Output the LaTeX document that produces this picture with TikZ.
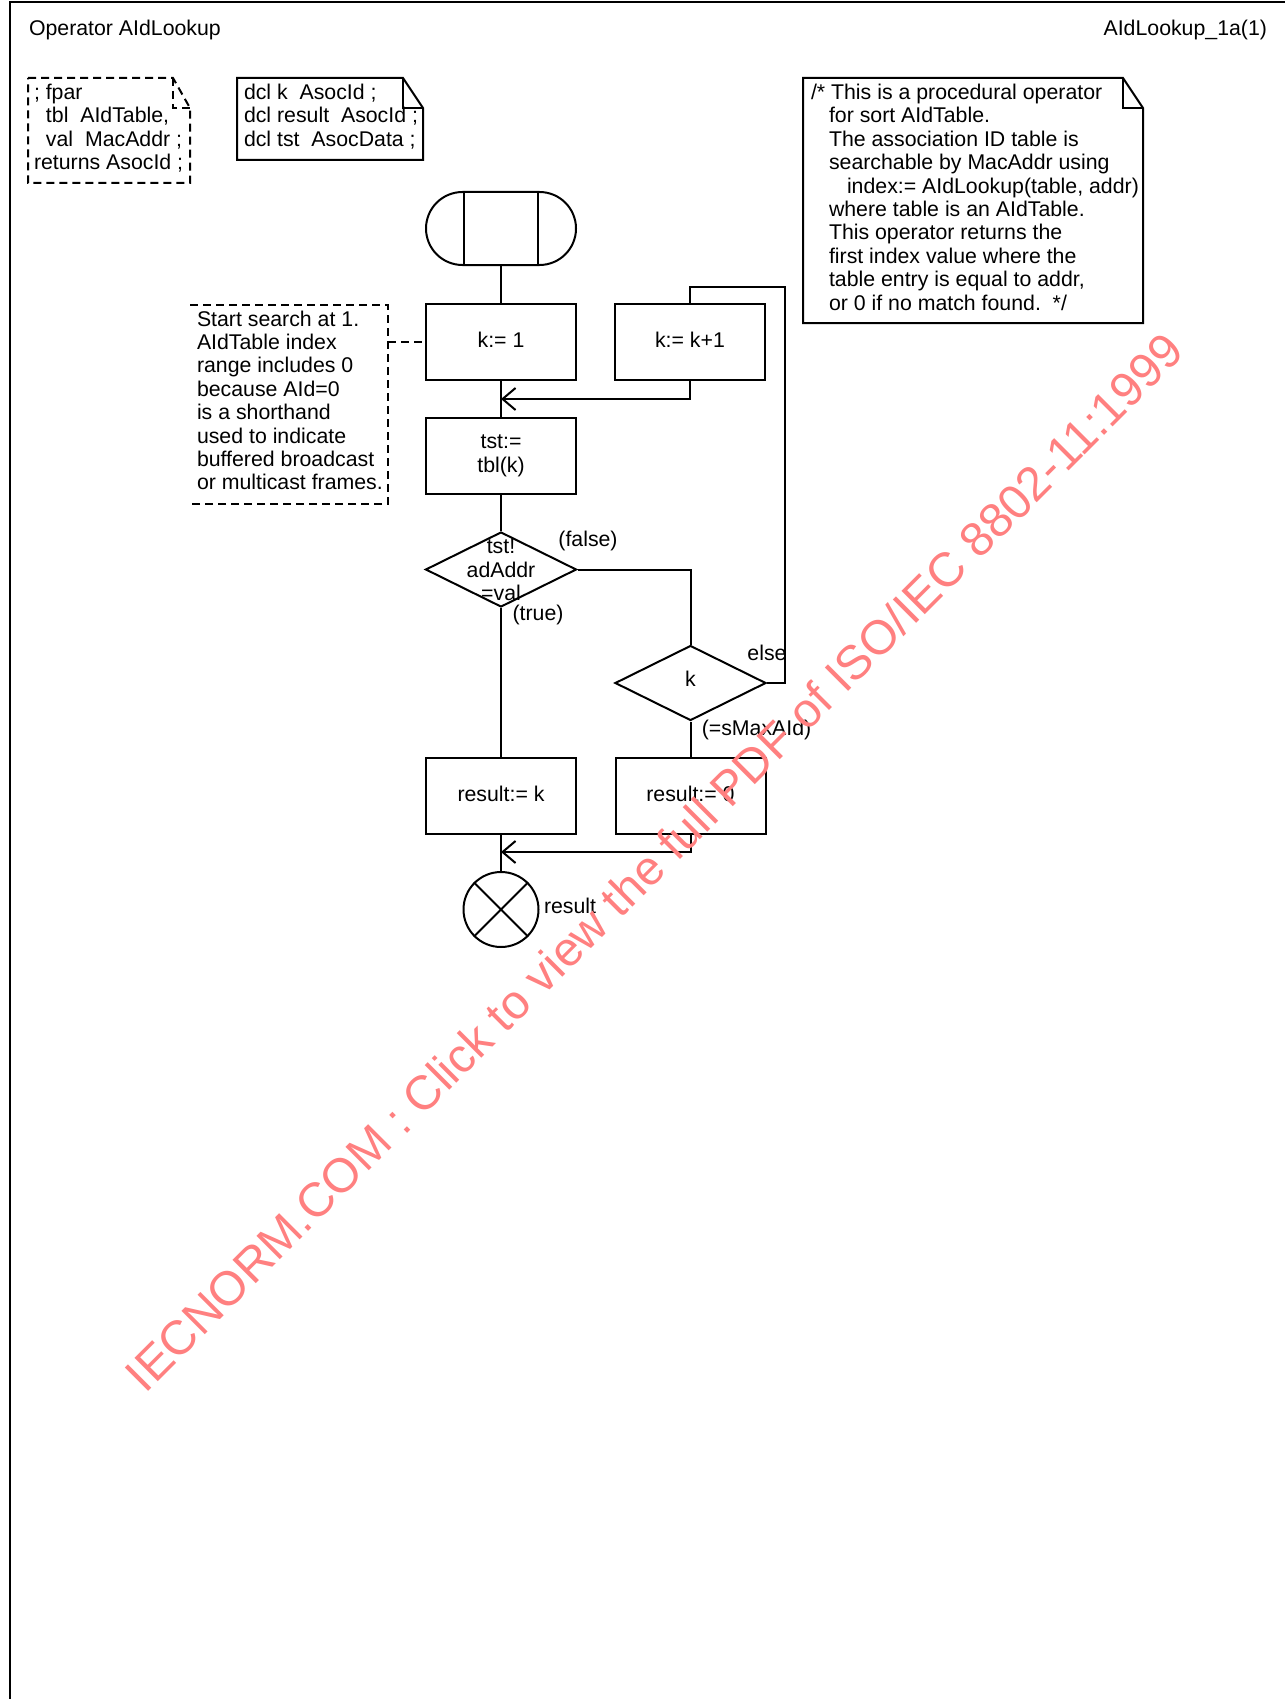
\documentclass[tikz,border=0pt]{standalone}
\usepackage{fontspec}
\setmainfont{Liberation Sans}
\usetikzlibrary{shapes.geometric,shapes.misc,arrows.meta,calc}
\definecolor{wmred}{RGB}{255,128,128}
\newcommand\stk[1]{\vtop{\halign{##\hfil\cr#1\crcr}}}
\begin{document}
\begin{tikzpicture}[x=1pt,y=-1pt,line width=2pt,
  every node/.style={font=\fontsize{21.3}{23.4}\selectfont,inner sep=0pt},
  box/.style={draw,rectangle,minimum width=150pt,minimum height=76pt,align=center},
  sbox/.style={box,text height=15.5pt,text depth=5pt},
  dec/.style={draw,diamond,minimum width=151pt,minimum height=75pt},
  barb/.style={-{Straight Barb[length=13pt,width=22pt]}},
  dsh/.style={dash pattern=on 8pt off 5pt},
  wm/.style={text=wmred,font=\fontsize{48}{50}\selectfont}]
\useasboundingbox (0,0) rectangle (1285,1699);
% frame
\draw[line width=2.5pt] (10,1699) -- (10,2) -- (1285,2);
\node[anchor=base west] (title) at (28,35.5) {Operator AIdLookup};
\node[anchor=base east] (pgid) at (1268,35.5) {AIdLookup\_1a(1)};
% fpar note (dashed)
\draw[dsh] (28,78) -- (173,78) -- (190,108) -- (190,183) -- (28,183) -- cycle;
\draw[dsh] (173,78) -- (173,108) -- (190,108);
\node[anchor=base west] (fpar) at (33,99.5) {\stk{; fpar\cr
\hspace*{12pt}tbl\ \ AIdTable,\cr
\hspace*{12pt}val\ \ MacAddr ;\cr
returns AsocId ;}};
% dcl note
\draw (237,78) -- (403,78) -- (423,108) -- (423,160) -- (237,160) -- cycle;
\draw (403,78) -- (403,108) -- (423,108);
\node[anchor=base west] (dcl) at (243,99.5) {\stk{dcl k\ \ AsocId ;\cr
dcl result\ \ AsocId ;\cr
dcl tst\ \ AsocData ;}};
% big comment note
\draw (803,78) -- (1123,78) -- (1143,108) -- (1143,323) -- (803,323) -- cycle;
\draw (1123,78) -- (1123,108) -- (1143,108);
\node[anchor=base west] (cmtR) at (810,99.5) {\stk{/* This is a procedural operator\cr
\hspace*{18pt}for sort AIdTable.\cr
\hspace*{18pt}The association ID table is\cr
\hspace*{18pt}searchable by MacAddr using\cr
\hspace*{36pt}index:= AIdLookup(table, addr)\cr
\hspace*{18pt}where table is an AIdTable.\cr
\hspace*{18pt}This operator returns the\cr
\hspace*{18pt}first index value where the\cr
\hspace*{18pt}table entry is equal to addr,\cr
\hspace*{18pt}or 0 if no match found.\ \ */}};
% left comment bracket
\draw[dsh] (190,305) -- (388,305) -- (388,504) -- (190,504);
\node[anchor=base west] (cmtL) at (196,326) {\stk{Start search at 1.\cr
AIdTable index\cr
range includes 0\cr
because AId=0\cr
is a shorthand\cr
used to indicate\cr
buffered broadcast\cr
or multicast frames.}};
\coordinate (cb) at (388,342);
% flow nodes
\node[draw,rounded rectangle,minimum width=150pt,minimum height=73pt] (st) at (501,228.5) {};
\draw ($(st.north)+(-37,0)$) -- ($(st.south)+(-37,0)$);
\draw ($(st.north)+(37,0)$) -- ($(st.south)+(37,0)$);
\node[sbox] (k1) at (501,342) {k:= 1};
\node[sbox] (kk) at (690,342) {k:= k+1};
\node[box] (tst) at (501,456) {tst:=\\tbl(k)};
\node[dec] (d1) at (501,569.5) {};
\node[align=center] (d1t) at (501,570) {tst!\\adAddr\\=val};
\node[dec] (d2) at (690.5,683) {};
\node (d2t) at (690.5,679) {k};
\node[sbox] (rk) at (501,796) {result:= k};
\node[sbox] (r0) at (690.5,796) {result:= 0};
\node[draw,circle,minimum size=75pt] (ret) at (501,909.5) {};
\draw (ret.north west) -- (ret.south east) (ret.north east) -- (ret.south west);
% labels
\node (lfalse) at (588,541) {(false)};
\node (ltrue) at (538,615) {(true)};
\node (lelse) at (767,653) {else};
\node (lmax) at (756.5,730) {(=sMaxAId)};
\node[anchor=west] (lres) at (543,906) {result};
% coordinates
\coordinate (m1) at (501,399);
\coordinate (m2) at (501,852);
\coordinate (e1) at (785,287);
% connectors
\draw[dsh] (cb) -- (k1.west);
\draw (st.south) -- (k1.north);
\draw (k1.south) -- (tst.north);
\draw[barb] (kk.south) |- (m1);
\draw (tst.south) -- (d1.north);
\draw (d1.east) -| (d2.north);
\draw (d1.south) -- (rk.north);
\draw (d2.east) -| (e1) -| (kk.north);
\draw (d2.south) -- (r0.north);
\draw (rk.south) -- (ret.north);
\draw[barb] (r0.south) |- (m2);
% watermark
\node[wm,rotate=45,anchor=base] (wmk) at (666,874) {IECNORM.COM : Click to view the full PDF of ISO/IEC 8802-11:1999};
\end{tikzpicture}
\end{document}
